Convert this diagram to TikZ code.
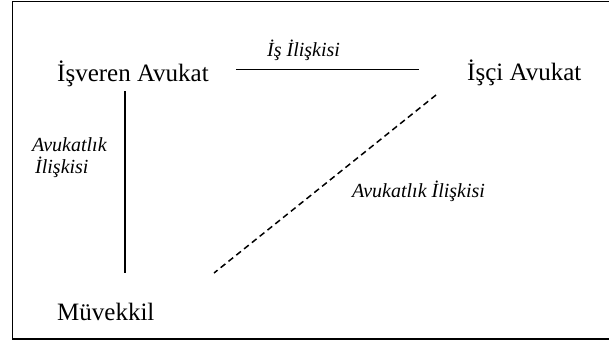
\documentclass[tikz,border=0pt]{standalone}
\usepackage{fontspec}
\setmainfont{Liberation Serif}
\usetikzlibrary{positioning}
\tikzset{
  kisi/.style={inner sep=0pt, anchor=base west, font=\fontsize{25}{30}\selectfont},
  iliski/.style={inner sep=0pt, anchor=base west, font=\fontsize{20}{22}\selectfont\itshape},
  relln/.style={line width=1.4pt},
  dashln/.style={line width=1.5pt, dash pattern=on 6pt off 4pt},
  frameln/.style={line width=1.6pt},
}

\begin{document}
\begin{tikzpicture}[x=1pt, y=1pt]
    \useasboundingbox (0,0) rectangle (609,-341);
    % outer frame, open on the right
    \draw[frameln] (609,-1.5) -- (12.5,-1.5) -- (12.5,-339) -- (609,-339);
    \node[kisi] (isveren) at (57,-81) {İşveren Avukat};
    \node[kisi] (isci) at (467,-80) {İşçi Avukat};
    \node[kisi] (muvekkil) at (57,-320) {Müvekkil};
    \node[iliski] (is) at (267,-56) {İş İlişkisi};
    \node[iliski, anchor=north west, align=left] (avsol) at (32,-137)
      {Avukatlık\\\hspace*{3pt}İlişkisi};
    \node[iliski] (avsag) at (352,-197) {Avukatlık İlişkisi};
    \draw[relln] ([xshift=27pt,yshift=11.5pt]isveren.base east)
      -- ([xshift=-48pt,yshift=10.5pt]isci.base west);
    \draw[relln] ([xshift=68pt,yshift=-10pt]isveren.base west)
      -- ([xshift=68pt,yshift=47pt]muvekkil.base west);
    \draw[dashln] ([xshift=-31pt,yshift=-15pt]isci.base west)
      -- ([xshift=157pt,yshift=47pt]muvekkil.base west);
\end{tikzpicture}
\end{document}
